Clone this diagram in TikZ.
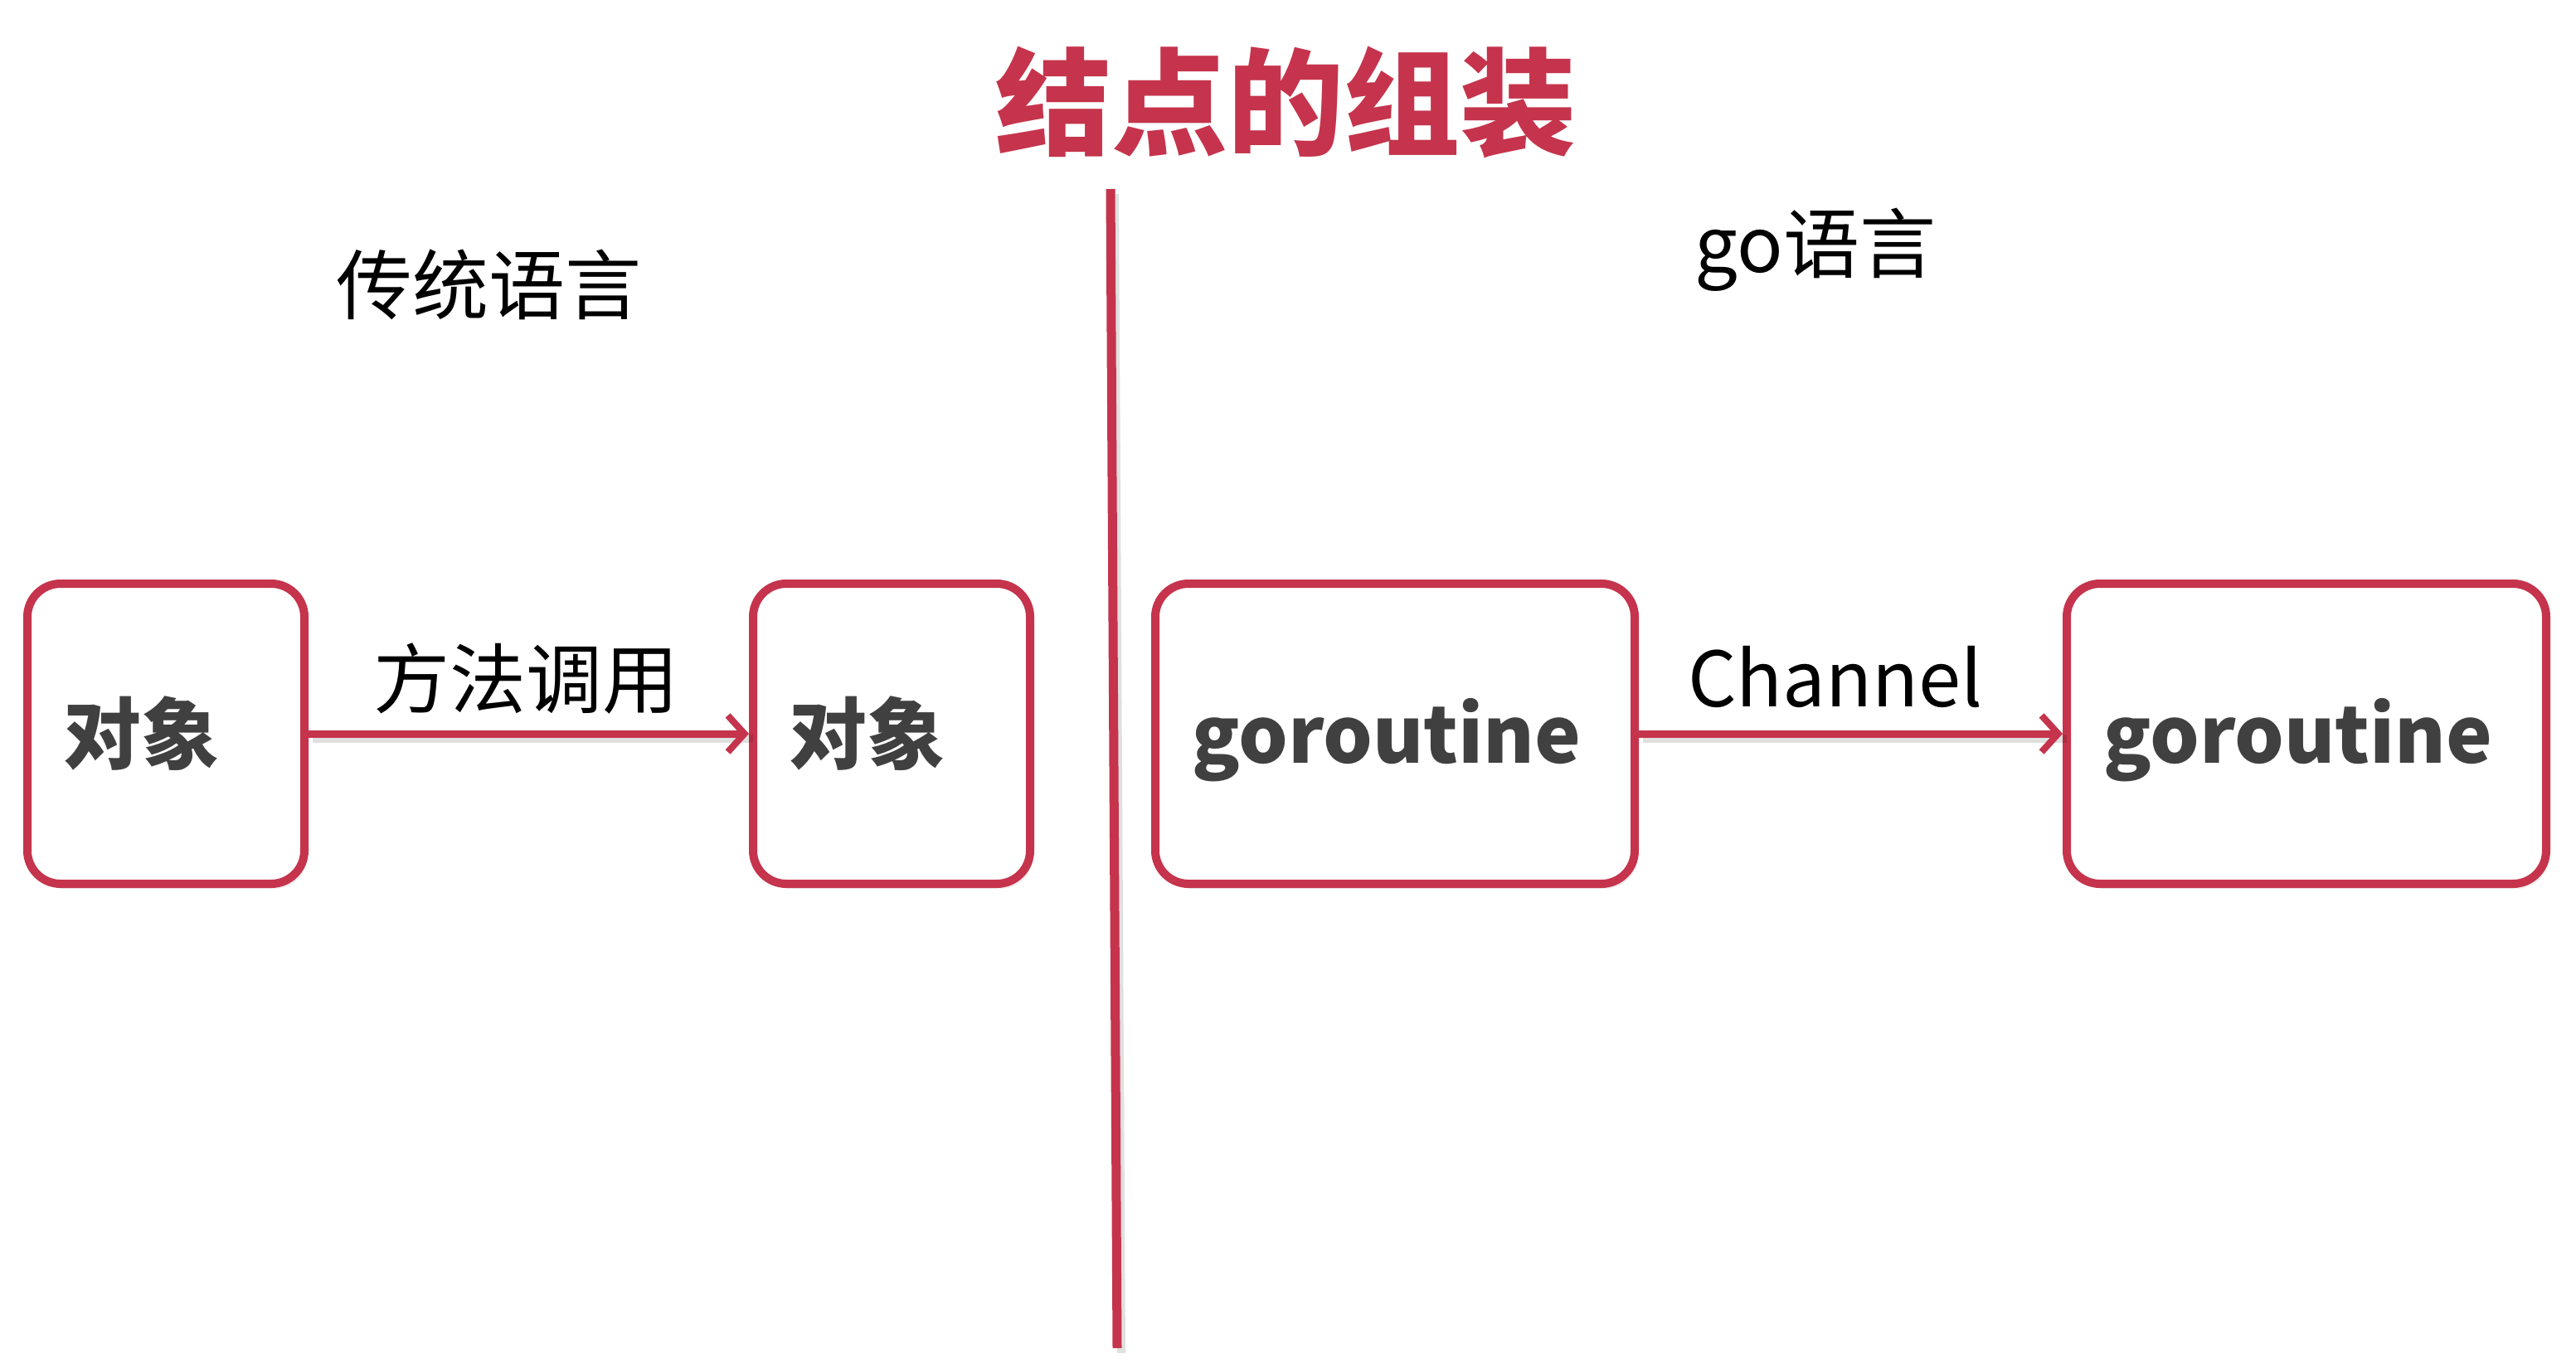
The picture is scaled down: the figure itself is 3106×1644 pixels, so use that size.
\documentclass[tikz,border=0pt]{standalone}
\usepackage{fontspec}
\setmainfont{Noto Sans CJK SC}
\usetikzlibrary{arrows.meta,shadows}
\definecolor{crimson}{RGB}{197,52,76}
\definecolor{inkgray}{RGB}{64,64,64}
\tikzset{
  box/.style={draw=crimson, line width=5pt, rounded corners=20pt, fill=white,
    minimum height=181pt,
    drop shadow={opacity=0.14, shadow xshift=2pt, shadow yshift=-3pt}},
  narrowbox/.style={box, minimum width=167pt},
  widebox/.style={box, minimum width=289pt},
  boxtext/.style={text=inkgray, font=\bfseries\fontsize{47}{50}\selectfont, inner sep=0pt},
  heading/.style={text=black, font=\fontsize{46}{50}\selectfont, inner sep=0pt},
  edgelabel/.style={text=black, font=\fontsize{46}{50}\selectfont, inner sep=0pt},
  conn/.style={draw=crimson, line width=4.5pt, -{Straight Barb[length=10pt, width=22pt, line width=4pt]}},
  divider/.style={draw=crimson, line width=5.5pt},
  softshadow/.style={draw=black, draw opacity=0.12, line width=5pt,
    transform canvas={xshift=2.5pt, yshift=-3pt}},
}
\begin{document}
\begin{tikzpicture}[x=0.5pt, y=-0.5pt]
  \useasboundingbox[fill=white] (0,0) rectangle (3106,1644);

  % title
  \node[text=crimson, font=\bfseries\fontsize{70}{74}\selectfont, inner sep=0pt] (title) at (1550,124) {结点的组装};

  % dividing line with its faint shadow
  \coordinate (divtop) at (1339,228);
  \coordinate (divbot) at (1347,1626);
  \draw[softshadow] (divtop) -- (divbot);
  \draw[divider] (divtop) -- (divbot);

  % column headings
  \node[heading] (lefthead) at (589,343) {传统语言};
  \node[heading] (righthead) at (2189,301) {go语言};

  % left side: objects and a method call
  \node[narrowbox] (obja) at (200,885) {};
  \node[narrowbox] (objb) at (1075,885) {};
  \node[boxtext] (objatext) at ([xshift=-15pt]obja.center) {对象};
  \node[boxtext] (objbtext) at ([xshift=-15pt]objb.center) {对象};
  \draw[softshadow] (obja.east) -- (objb.west);
  \draw[conn] (obja.east) -- (objb.west);
  \node[edgelabel] (calllabel) at (634,818) {方法调用};

  % right side: goroutines and a channel
  \node[widebox] (gora) at (1682,885) {};
  \node[widebox] (gorb) at (2781,885) {};
  \node[boxtext] (goratext) at ([xshift=-5pt,yshift=-4pt]gora.center) {goroutine};
  \node[boxtext] (gorbtext) at ([xshift=-5pt,yshift=-4pt]gorb.center) {goroutine};
  \draw[softshadow] (gora.east) -- (gorb.west);
  \draw[conn] (gora.east) -- (gorb.west);
  \node[edgelabel] (chanlabel) at (2213,816) {Channel};
\end{tikzpicture}
\end{document}
